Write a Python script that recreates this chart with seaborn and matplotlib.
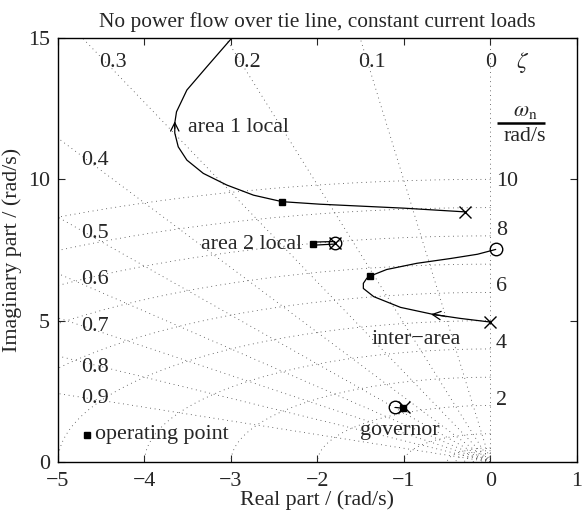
import numpy as np
import pandas as pd
import matplotlib
matplotlib.use("Agg")
import matplotlib.pyplot as plt
import seaborn as sns

# ---------------- data ----------------
# area 1 local mode locus (from open-loop pole outward)
a1_re = [-0.30, -1.00, -1.97, -2.41, -2.74, -3.05, -3.32, -3.51, -3.61, -3.65, -3.65, -3.63, -3.51, -3.28, -3.01, -2.93]
a1_im = [8.85, 8.98, 9.12, 9.21, 9.44, 9.80, 10.21, 10.68, 11.15, 11.64, 11.99, 12.39, 13.16, 13.98, 14.93, 15.20]
a1_pole = (-0.30, 8.85)
a1_op = (-2.41, 9.21)

# area 2 local mode locus (tiny loop)
a2_upper_re = [-1.80, -2.05]
a2_upper_im = [7.80, 7.78]
a2_lower_re = [-2.05, -1.80]
a2_lower_im = [7.67, 7.71]
a2_pole = (-1.80, 7.76)
a2_zero = (-1.80, 7.76)
a2_op = (-2.05, 7.72)

# inter-area mode locus
ia_re = [0.00, -0.35, -0.66, -1.04, -1.35, -1.47, -1.47, -1.43, -1.39, -1.20, -0.85, -0.46, -0.15, 0.06]
ia_im = [4.95, 5.08, 5.22, 5.47, 5.85, 6.14, 6.32, 6.50, 6.58, 6.81, 7.03, 7.20, 7.35, 7.52]
ia_pole = (0.00, 4.95)
ia_zero = (0.06, 7.52)
ia_op = (-1.39, 6.58)

# governor mode
gov_re = [-1.10, -1.01]
gov_im = [1.93, 1.90]
gov_pole = (-1.00, 1.93)
gov_zero = (-1.10, 1.93)
gov_op = (-1.01, 1.90)

# grid values
zeta_vals = [0.0, 0.1, 0.2, 0.3, 0.4, 0.5, 0.6, 0.7, 0.8, 0.9]
wn_vals = [0.1, 0.2, 0.3, 0.4, 0.5, 1, 2, 3, 4, 5, 6, 7, 8, 9, 10]
wn_labels = [2, 4, 6, 8, 10]

x_ticks = [-5, -4, -3, -2, -1, 0, 1]
y_ticks = [0, 5, 10, 15]

# ---------------- styling ----------------
sns.set_theme(style="ticks")
plt.rcParams["font.family"] = ["Liberation Serif", "DejaVu Serif"]
plt.rcParams["mathtext.fontset"] = "stix"
plt.rcParams["axes.unicode_minus"] = True
FS = 15.8

fig = plt.figure(figsize=(5.82, 5.18), dpi=100)
ax = fig.add_axes([58/582, 1-462/518, (577-58)/582, (462-38)/518])

gridkw = dict(color="0.25", lw=0.6, ls=(0, (1, 4.5)), zorder=1)
# zeta rays
for z in zeta_vals:
    r = np.array([0, 30])
    ax.plot(-z*r, np.sqrt(1-z**2)*r, **gridkw)
# wn circles
th = np.linspace(np.pi/2, np.pi, 200)
for w in wn_vals:
    ax.plot(w*np.cos(th), w*np.sin(th), **gridkw)

lk = dict(color="black", lw=0.9, sort=False, estimator=None, ax=ax, legend=False, zorder=3)
sns.lineplot(x=a1_re, y=a1_im, **lk)
sns.lineplot(x=ia_re, y=ia_im, **lk)
sns.lineplot(x=a2_upper_re, y=a2_upper_im, **lk)
sns.lineplot(x=a2_lower_re, y=a2_lower_im, **lk)
sns.lineplot(x=gov_re, y=gov_im, **lk)

poles = pd.DataFrame([a1_pole, a2_pole, ia_pole, gov_pole], columns=["re", "im"])
zeros = pd.DataFrame([a2_zero, ia_zero, gov_zero], columns=["re", "im"])
ops = pd.DataFrame([a1_op, a2_op, ia_op, gov_op], columns=["re", "im"])

ax.plot(poles.re, poles.im, ls="none", marker="x", ms=9, mew=1.0, color="black", zorder=4)
ax.plot(zeros.re, zeros.im, ls="none", marker="o", ms=9, mew=1.0, mfc="none", mec="black", zorder=4)
ax.plot(ops.re, ops.im, ls="none", marker="s", ms=4.5, color="black", zorder=5)

# direction arrows
ax.annotate("", xy=(-3.65, 12.15), xytext=(-3.65, 11.7),
            arrowprops=dict(arrowstyle="->,head_length=0.5,head_width=0.25", lw=0.9, color="black"), zorder=5)
ax.annotate("", xy=(-0.72, 5.24), xytext=(-0.5, 5.15),
            arrowprops=dict(arrowstyle="->,head_length=0.5,head_width=0.25", lw=0.9, color="black"), zorder=5)

# legend marker
ax.plot([-4.66], [0.97], ls="none", marker="s", ms=4.5, color="black")
ax.text(-4.57, 0.97, "operating point", fontsize=FS, va="center", ha="left")

# mode labels
ax.text(-3.5, 11.85, "area 1 local", fontsize=FS, va="center", ha="left")
ax.text(-2.18, 7.70, "area 2 local", fontsize=FS, va="center", ha="right")
ax.text(-0.86, 4.32, "inter\u2212area", fontsize=FS, va="center", ha="center")
ax.text(-1.05, 1.12, "governor", fontsize=FS, va="center", ha="center")

# zeta labels
top_z = {0.3: -4.36, 0.2: -2.81, 0.1: -1.37, 0.0: 0.0}
for z, x in top_z.items():
    ax.text(x, 14.15, f"{z:g}", fontsize=FS, ha="center", va="center")
left_z = {0.4: 10.68, 0.5: 8.10, 0.6: 6.44, 0.7: 4.81, 0.8: 3.36, 0.9: 2.26}
for z, y in left_z.items():
    ax.text(-4.57, y, f"{z:g}", fontsize=FS, ha="center", va="center")
ax.text(0.37, 14.15, r"$\zeta$", fontsize=FS+1, ha="center", va="center")

# wn labels
wn_y = {2: 2.19, 4: 4.2, 6: 6.2, 8: 8.18, 10: 9.92}
for w in wn_labels:
    ax.text(0.06, wn_y[w], f"{w}", fontsize=FS, ha="left", va="center")
ax.text(0.40, 12.05, r"$\omega_\mathrm{n}$", fontsize=FS, ha="center", va="bottom")
ax.text(0.40, 11.85, r"rad/s", fontsize=FS, ha="center", va="top")
ax.plot([0.08, 0.63], [11.98, 11.98], color="black", lw=1.8, solid_capstyle="butt", clip_on=False)

ax.set_xlim(-5, 1)
ax.set_ylim(0, 15)
ax.set_xticks(x_ticks)
ax.set_yticks(y_ticks)
ax.tick_params(direction="in", top=True, right=True, labelsize=FS, length=5, width=0.8)
ax.tick_params(axis="x", pad=7)
ax.tick_params(axis="y", pad=6)
for s in ax.spines.values():
    s.set_linewidth(1.0)
    s.set_color("black")
ax.set_xlabel("Real part / (rad/s)", fontsize=FS, labelpad=0)
ax.set_ylabel("Imaginary part / (rad/s)", fontsize=FS, labelpad=4)
ax.set_title("No power flow over tie line, constant current loads", fontsize=15.4, pad=8)

fig.savefig("out.png", dpi=100)
